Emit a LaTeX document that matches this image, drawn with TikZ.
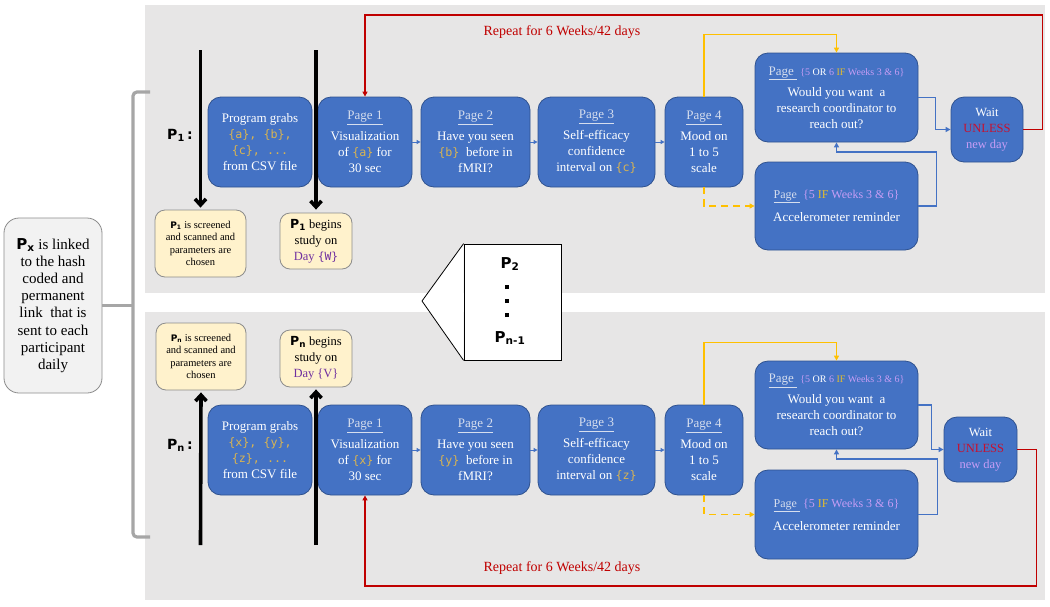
\documentclass[tikz,border=0pt]{standalone}
\usepackage{fontspec}
\setmainfont{Liberation Serif}
\newfontfamily\codefont{DejaVu Sans Mono}[Scale=0.9]
\newfontfamily\lblfont{DejaVu Sans}
\usetikzlibrary{arrows.meta,calc}
\definecolor{panel}{HTML}{E7E6E6}
\definecolor{bfill}{HTML}{4472C4}
\definecolor{bborder}{HTML}{2F528F}
\definecolor{codegold}{HTML}{D9B452}
\definecolor{pglink}{HTML}{D6DEEE}
\definecolor{lav}{HTML}{C79DF5}
\definecolor{ifgold}{HTML}{E2BC2E}
\definecolor{crim}{HTML}{C8102E}
\definecolor{loopred}{HTML}{C00000}
\definecolor{yline}{HTML}{FFC000}
\definecolor{yfill}{HTML}{FFF2CC}
\definecolor{ygray}{HTML}{8C8C8C}
\definecolor{pxfill}{HTML}{F2F2F2}
\definecolor{dpurple}{HTML}{7030A0}
\definecolor{bracegray}{HTML}{A6A6A6}
\newcommand{\cv}[1]{\textcolor{codegold}{\codefont\{#1\}}}
\newcommand{\pgt}[1]{\textcolor{pglink}{\underline{Page #1}}}
\newcommand{\smallcond}[1]{{\fontsize{10}{11}\selectfont #1}}
\newcommand{\sqdots}{\rule{4pt}{4pt}\\ \rule{4pt}{4pt}\\ \rule{4pt}{4pt}}
\begin{document}
\begin{tikzpicture}[x=1pt,y=-1pt,
  bbox/.style={draw=bborder, fill=bfill, rounded corners=13pt, line width=0.8pt,
    text=white, align=center, font=\fontsize{13}{16}\selectfont, inner sep=2pt},
  ybox/.style={draw=ygray, fill=yfill, rounded corners=10pt, line width=0.8pt,
    align=center, text=black, inner sep=1pt},
  pxbox/.style={draw=ygray, fill=pxfill, rounded corners=15pt, line width=0.8pt,
    align=center, text=black, font=\fontsize{15}{17.2}\selectfont, inner sep=1pt},
  sarrow/.style={draw=bfill, line width=1pt, -{Triangle[length=4pt,width=4pt]}},
  blink/.style={draw=bfill, line width=1.2pt, -{Triangle[length=5pt,width=5pt]}},
  ylink/.style={draw=yline, line width=1.5pt, -{Triangle[length=5pt,width=5pt]}},
  ydash/.style={draw=yline, line width=1.5pt, dash pattern=on 7pt off 5pt, -{Triangle[length=5pt,width=5pt]}},
  rlink/.style={draw=loopred, line width=1.5pt, -{Triangle[length=5pt,width=5pt]}},
  blk/.style={draw=black, line width=3.6pt, -{Straight Barb[length=6pt,width=11pt]}},
  plabel/.style={font=\lblfont\bfseries\fontsize{14}{16}\selectfont, inner sep=0pt},
  replabel/.style={text=loopred, font=\fontsize{14}{16}\selectfont, inner sep=1pt},
  brace/.style={draw=bracegray, line width=3.2pt, rounded corners=4pt},
  callfont/.style={font=\lblfont\bfseries\fontsize{15}{17}\selectfont, inner sep=0pt}
]
\useasboundingbox (0,0) rectangle (1050,606);
\fill[white] (0,0) rectangle (1050,606);
\fill[panel] (145,5) rectangle (1045,293);
\fill[panel] (145,312) rectangle (1045,600);

% left box and brace
\node[pxbox, minimum width=98pt, minimum height=175pt] (px) at (53,305.5)
  {{\lblfont\bfseries P\textsubscript{x}} is linked\\ to the hash\\ coded and\\ permanent\\ link\ \ that is\\ sent to each\\ participant\\ daily};
\draw[brace] (150,92) -- (133,92) -- (133,537) -- (150,537);
\draw[brace] (px.east) -- ++(31,0);

% ================= TOP ROW =================
\node[plabel] (p1) at (180,135) {P\textsubscript{1}\,:};
\node[bbox, minimum width=104pt, minimum height=90pt] (grab1) at (260,142)
  {Program grabs\\ \textcolor{codegold}{\codefont\{a\}, \{b\},}\\ \textcolor{codegold}{\codefont\{c\}, ...}\\ from CSV\ file};
\node[bbox, minimum width=94pt, minimum height=90pt] (pa1) at (365,142)
  {\pgt{1}\\[5pt] Visualization\\ of \cv{a} for\\ 30 sec};
\node[bbox, minimum width=109pt, minimum height=90pt] (pb1) at (475.5,142)
  {\pgt{2}\\[5pt] Have\ you seen\\ \cv{b}\ \ before in\\ fMRI?};
\node[bbox, minimum width=117pt, minimum height=90pt] (pc1) at (596.5,142)
  {\pgt{3}\\[5pt] Self-efficacy\\ confidence\\ interval on \cv{c}};
\node[bbox, minimum width=78pt, minimum height=90pt] (pd1) at (704,142)
  {\pgt{4}\\[5pt] Mood on\\ 1 to 5\\ scale};
\node[bbox, minimum width=163pt, minimum height=89pt] (pe1) at (836.5,97.5)
  {\pgt{}\ \smallcond{\textcolor{lav}{\{5} OR \textcolor{lav}{6} \textcolor{ifgold}{IF} \textcolor{lav}{Weeks 3 \& 6\}}}\\[5pt] Would you want\ \ a\\ research coordinator to\\ reach out?};
\node[bbox, minimum width=163pt, minimum height=88pt] (acc1) at (836.5,206)
  {{\fontsize{12}{14}\selectfont\pgt{}\ \textcolor{lav}{\{5 \textcolor{ifgold}{IF} Weeks 3 \& 6\}}}\\[7pt] Accelerometer reminder};
\node[bbox, minimum width=72pt, minimum height=65pt, font=\fontsize{12.5}{16}\selectfont] (wait1) at (987,129.5)
  {Wait\\ \textcolor{crim}{UNLESS}\\ \textcolor{lav}{new\ day}};

\node[ybox, minimum width=91pt, minimum height=67pt, font=\fontsize{10.5}{12.3}\selectfont] (scr1) at (200.5,243.5)
  {{\lblfont\bfseries\fontsize{9}{10}\selectfont P\textsubscript{1}} is screened\\ and scanned and\\ parameters are\\ chosen};
\node[ybox, minimum width=72pt, minimum height=56pt, font=\fontsize{12.5}{16}\selectfont] (beg1) at (316,241)
  {{\lblfont\bfseries P\textsubscript{1}} begins\\ study on\\ \textcolor{dpurple}{Day {\codefont\{W\}}}};

\coordinate (s1) at (200.5,50);
\coordinate (s2) at (316,50);
\draw[blk, shorten >=2pt] (s1) -- (scr1.north);
\draw[blk, shorten >=3pt] (s2) -- (beg1.north);

\draw[sarrow] (pa1.east) -- (pb1.west);
\draw[sarrow] (pb1.east) -- (pc1.west);
\draw[sarrow] (pc1.east) -- (pd1.west);
\draw[ylink] (pd1.north) -- ++(0,-62) -| (pe1.north);
\draw[ydash] (pd1.south) |- (acc1.west);
\draw[blink] (pe1.east) -- ++(17,0) |- (wait1.west);
\draw[blink] (acc1.east) -- ++(18,0) -- ++(0,-54) -| (pe1.south);
\draw[rlink] (wait1.east) -- ++(19,0) -- ++(0,-114.5) -| (pa1.north);
\node[replabel] (rep1) at (562,32) {Repeat for 6 Weeks/42 days};

% ================= CALLOUT =================
\node[draw=black, fill=white, line width=0.8pt, minimum width=97pt, minimum height=116pt, inner sep=0pt] (call) at (512.5,302) {};
\coordinate (tip) at (422,301);
\fill[white] (call.north west) -- (tip) -- (call.south west) -- cycle;
\draw[line width=0.8pt] (call.north west) -- (tip) -- (call.south west);
\node[callfont] (p2) at (510,264) {P\textsubscript{2}};
\node[inner sep=0pt, align=center, font=\fontsize{10}{14}\selectfont] (dots) at (507,301) {\sqdots};
\node[callfont] (pn1) at (510,338) {P\textsubscript{n-1}};

% ================= BOTTOM ROW =================
\node[plabel] (pn) at (180,445) {P\textsubscript{n}\,:};
\node[bbox, minimum width=104pt, minimum height=90pt] (grab2) at (260,450)
  {Program grabs\\ \textcolor{codegold}{\codefont\{x\}, \{y\},}\\ \textcolor{codegold}{\codefont\{z\}, ...}\\ from CSV\ file};
\node[bbox, minimum width=94pt, minimum height=90pt] (pa2) at (365,450)
  {\pgt{1}\\[5pt] Visualization\\ of \cv{x} for\\ 30 sec};
\node[bbox, minimum width=109pt, minimum height=90pt] (pb2) at (475.5,450)
  {\pgt{2}\\[5pt] Have\ you seen\\ \cv{y}\ \ before in\\ fMRI?};
\node[bbox, minimum width=117pt, minimum height=90pt] (pc2) at (596.5,450)
  {\pgt{3}\\[5pt] Self-efficacy\\ confidence\\ interval on \cv{z}};
\node[bbox, minimum width=78pt, minimum height=90pt] (pd2) at (704,450)
  {\pgt{4}\\[5pt] Mood on\\ 1 to 5\\ scale};
\node[bbox, minimum width=163pt, minimum height=88pt] (pe2) at (836.5,405)
  {\pgt{}\ \smallcond{\textcolor{lav}{\{5} OR \textcolor{lav}{6} \textcolor{ifgold}{IF} \textcolor{lav}{Weeks 3 \& 6\}}}\\[5pt] Would you want\ \ a\\ research coordinator to\\ reach out?};
\node[bbox, minimum width=163pt, minimum height=89pt] (acc2) at (836.5,514.5)
  {{\fontsize{12}{14}\selectfont\pgt{}\ \textcolor{lav}{\{5 \textcolor{ifgold}{IF} Weeks 3 \& 6\}}}\\[7pt] Accelerometer reminder};
\node[bbox, minimum width=73pt, minimum height=65pt, font=\fontsize{12.5}{16}\selectfont] (wait2) at (980.5,449.5)
  {Wait\\ \textcolor{crim}{UNLESS}\\ \textcolor{lav}{new\ day}};

\node[ybox, minimum width=90pt, minimum height=67pt, font=\fontsize{10.5}{12.3}\selectfont] (scr2) at (201,356.5)
  {{\lblfont\bfseries\fontsize{9}{10}\selectfont P\textsubscript{n}} is screened\\ and scanned and\\ parameters are\\ chosen};
\node[ybox, minimum width=72pt, minimum height=57pt, font=\fontsize{12.5}{16}\selectfont] (beg2) at (316,358.5)
  {{\lblfont\bfseries P\textsubscript{n}} begins\\ study on\\ \textcolor{dpurple}{Day \{V\}}};

\coordinate (t1) at (200.5,545);
\coordinate (t2) at (316,545);
\draw[blk, shorten >=2pt] (t1) -- (scr2.south);
\draw[blk, shorten >=2pt] (t2) -- (beg2.south);

\draw[sarrow] (pa2.east) -- (pb2.west);
\draw[sarrow] (pb2.east) -- (pc2.west);
\draw[sarrow] (pc2.east) -- (pd2.west);
\draw[ylink] (pd2.north) -- ++(0,-62) -| (pe2.north);
\draw[ydash] (pd2.south) |- (acc2.west);
\draw[blink] (pe2.east) -- ++(13,0) |- (wait2.west);
\draw[blink] (acc2.east) -- ++(19,0) -- ++(0,-55.5) -| (pe2.south);
\draw[rlink] (wait2.east) -- ++(19,0) -- ++(0,136.5) -| (pa2.south);
\node[replabel] (rep2) at (562,568) {Repeat for 6 Weeks/42 days};
\end{tikzpicture}
\end{document}
